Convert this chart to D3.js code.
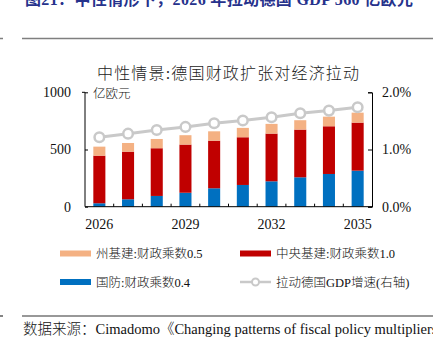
<!DOCTYPE html>
<html><head><meta charset="utf-8">
<script src="https://cdn.jsdelivr.net/npm/d3@7"></script>
<style>
html,body{margin:0;padding:0;background:#fff;}
svg{display:block;}
text{font-family:"Liberation Serif","Noto Sans CJK SC",serif;}
.lt{font-weight:300;}
</style></head>
<body>
<svg id="c" width="433" height="350"></svg>
<script>
const years = ["2026","2027","2028","2029","2030","2031","2032","2033","2034","2035"];
const defense = [30, 65, 94, 122, 161, 190, 222, 257, 286, 315];
const centralInfra = [416, 416, 417, 421, 416, 417, 417, 417, 417, 420];
const stateInfra = [79, 76, 81, 82, 82, 82, 85, 82, 84, 87];
const gdpBoost = [1.214, 1.277, 1.342, 1.395, 1.459, 1.508, 1.564, 1.634, 1.68, 1.739];
const leftTicks = [0, 500, 1000];
const rightTicks = [0, 0.01, 0.02];
const xTickLabels = ["2026","2029","2032","2035"];
const seriesNames = ["州基建:财政乘数0.5","中央基建:财政乘数1.0","国防:财政乘数0.4","拉动德国GDP增速(右轴)"];

const svg = d3.select("#c");
const colors = {state:"#F4B183", central:"#C00000", defense:"#0070C0", line:"#C9C9C9"};

// header
svg.append("text").attr("x",25).attr("y",5).attr("font-size",16).attr("font-weight","bold")
  .attr("fill","#26328C").attr("textLength",388)
  .text("图21：中性情形下，2026 年拉动德国 GDP 560 亿欧元");
svg.append("line").attr("x1",22).attr("x2",433).attr("y1",38.5).attr("y2",38.5).attr("stroke","#7f7f7f").attr("stroke-width",1.5);
svg.append("line").attr("x1",0).attr("x2",3).attr("y1",38.5).attr("y2",38.5).attr("stroke","#7f7f7f").attr("stroke-width",1.5);

// chart title
svg.append("text").attr("class","lt").attr("x",228).attr("y",79).attr("text-anchor","middle").attr("font-size",16)
  .attr("fill","#222").attr("textLength",262).text("中性情景:德国财政扩张对经济拉动");

const x = d3.scaleBand().domain(years).range([85,372]).paddingInner(0.58).paddingOuter(0.29);
const yL = d3.scaleLinear().domain([0,1000]).range([206.7,92.3]);
const yR = d3.scaleLinear().domain([0,0.02]).range([206.7,92.3]);

const rows = years.map((yr,i)=>({yr, defense:defense[i], central:centralInfra[i], state:stateInfra[i]}));
const stack = d3.stack().keys(["defense","central","state"])(rows);
svg.append("g").selectAll("g").data(stack).join("g")
  .attr("fill",d=>colors[d.key])
  .selectAll("rect").data(d=>d).join("rect")
  .attr("x",d=>x(d.data.yr)).attr("width",x.bandwidth())
  .attr("y",d=>yL(d[1])).attr("height",d=>yL(d[0])-yL(d[1]));

// left axis
const axL = svg.append("g").attr("transform","translate(85,0)")
  .call(d3.axisLeft(yL).tickValues(leftTicks).tickSize(-3).tickPadding(14).tickFormat(d3.format("d")));
axL.select(".domain").attr("d","M-3,92.3H0V206.7");
// right axis
const axR = svg.append("g").attr("transform","translate(372,0)")
  .call(d3.axisRight(yR).tickValues(rightTicks).tickSize(-4).tickPadding(10).tickFormat(d3.format(".1%")));
// bottom axis
const axB = svg.append("g").attr("transform","translate(0,206.7)")
  .call(d3.axisBottom(x).tickValues(xTickLabels).tickSize(0).tickPadding(10));
const bTicks = years.slice(1).map(yr=>x(yr)-x.step()*x.paddingInner()/2);
axB.selectAll("line.sep").data(bTicks).join("line").attr("class","sep")
  .attr("x1",d=>d).attr("x2",d=>d).attr("y1",0).attr("y2",-3).attr("stroke","#000");
axB.select(".domain").attr("d","M85,0H372");
[axL,axR,axB].forEach(a=>{
  a.selectAll("text").attr("font-size",14).attr("fill","#111").attr("font-family","'Liberation Serif',serif");
  a.select(".domain").attr("stroke","#000");
  a.selectAll(".tick line").attr("stroke","#000");
});
axB.selectAll(".tick text").attr("dy","0.9em");

svg.append("text").attr("class","lt").attr("x",93).attr("y",97.5).attr("font-size",12.5).attr("fill","#111").text("亿欧元");

// line
const lineData = years.map((yr,i)=>({yr, v:gdpBoost[i]/100}));
const cx = d=>x(d.yr)+x.bandwidth()/2;
svg.append("path").datum(lineData).attr("fill","none").attr("stroke",colors.line).attr("stroke-width",3)
  .attr("d",d3.line().x(cx).y(d=>yR(d.v)));
svg.append("g").selectAll("circle").data(lineData).join("circle")
  .attr("cx",cx).attr("cy",d=>yR(d.v)).attr("r",4.8)
  .attr("fill","#fff").attr("stroke",colors.line).attr("stroke-width",2.5);

// legend
const leg = [
  {name:seriesNames[0], c:colors.state, x:60, y:253.5, t:"bar"},
  {name:seriesNames[1], c:colors.central, x:240, y:253.5, t:"bar"},
  {name:seriesNames[2], c:colors.defense, x:60, y:282, t:"bar"},
  {name:seriesNames[3], c:colors.line, x:240, y:282, t:"line"}
];
const lg = svg.append("g").selectAll("g").data(leg).join("g").attr("transform",d=>`translate(${d.x},${d.y})`);
lg.filter(d=>d.t==="bar").append("rect").attr("x",0).attr("y",-3).attr("width",31).attr("height",6).attr("fill",d=>d.c);
lg.filter(d=>d.t==="line").append("line").attr("x1",0).attr("x2",31).attr("stroke",d=>d.c).attr("stroke-width",2.5);
lg.filter(d=>d.t==="line").append("circle").attr("cx",15.5).attr("r",3.5).attr("fill","#fff").attr("stroke",d=>d.c).attr("stroke-width",2);
lg.append("text").attr("class","lt").attr("x",36).attr("y",4.5).attr("font-size",12.5).attr("fill","#111").text(d=>d.name);

// source
svg.append("line").attr("x1",22).attr("x2",433).attr("y1",316).attr("y2",316).attr("stroke","#333").attr("stroke-width",1.2);
svg.append("line").attr("x1",0).attr("x2",3).attr("y1",316).attr("y2",316).attr("stroke","#333").attr("stroke-width",1.2);
svg.append("text").attr("class","lt").attr("x",23).attr("y",334).attr("font-size",14.5).attr("fill","#111")
  .text("数据来源：Cimadomo《Changing patterns of fiscal policy multipliers");
</script>
</body></html>
